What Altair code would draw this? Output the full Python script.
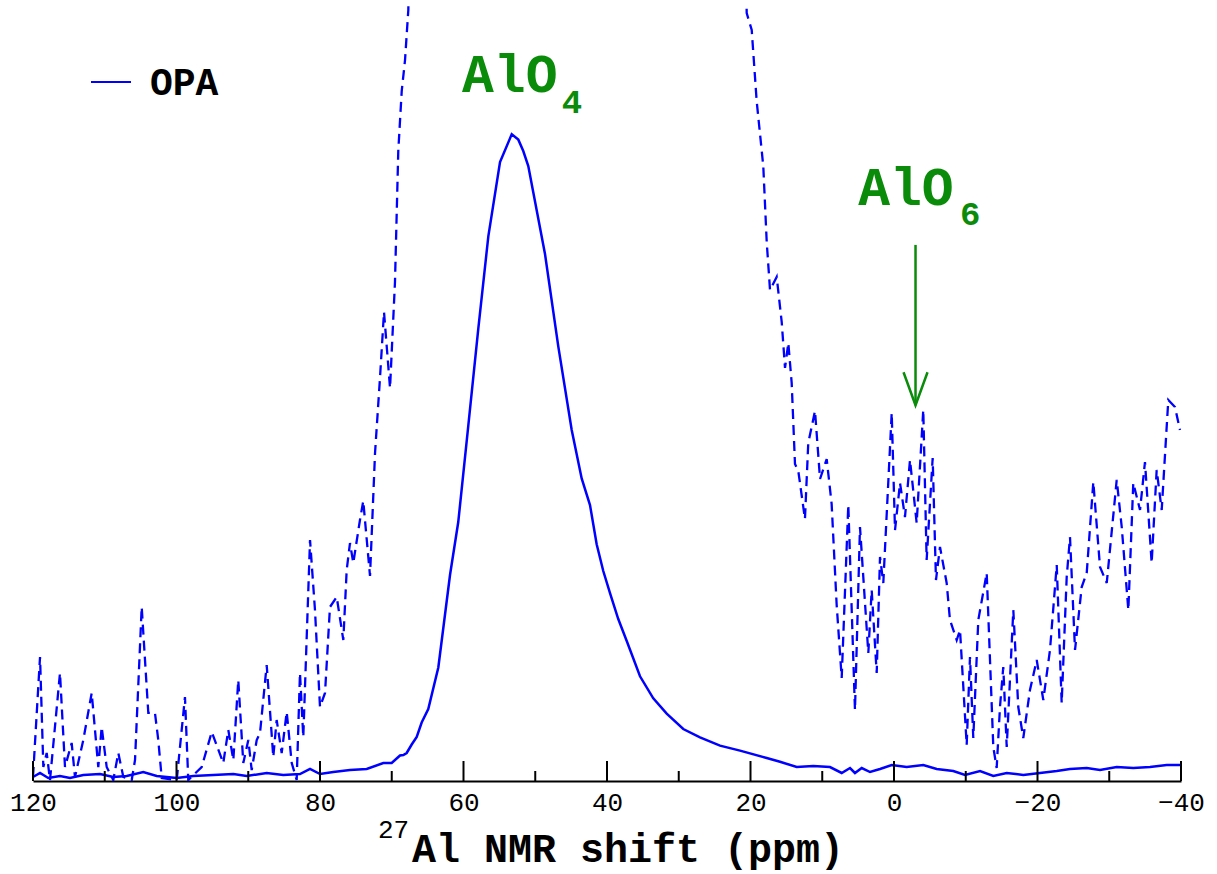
import altair as alt
import pandas as pd

# ---- data (ppm, normalised intensity; peak = 100) ----
solid_ppm = [120.0, 119.02, 117.87, 116.24, 114.84, 112.99, 110.66, 108.81, 106.94, 104.63,
             102.76, 99.97, 97.66, 94.87, 92.08, 90.22, 87.43, 85.12, 82.79, 81.39,
             80.0, 78.15, 75.82, 73.49, 71.18, 70.01, 68.85, 68.39, 67.92, 67.22,
             66.52, 65.83, 64.91, 63.51, 61.88, 60.73, 59.33, 57.94, 56.54, 54.91,
             53.28, 52.36, 51.67, 50.97, 50.27, 48.64, 46.79, 44.92, 43.53, 42.37,
             41.44, 40.52, 39.58, 38.43, 37.25, 35.40, 33.55, 31.68, 29.37, 27.04,
             24.25, 21.46, 17.74, 15.89, 13.56, 11.25, 8.92, 7.29, 6.13, 5.44,
             4.50, 3.34, 1.95, 0.32, -1.77, -4.08, -5.95, -8.26, -9.90, -11.99,
             -13.84, -15.71, -18.02, -20.35, -22.68, -24.53, -26.86, -28.71, -31.04, -33.35,
             -35.68, -38.01, -39.86]
solid_int = [0.62, 1.24, 0.46, 0.77, 0.46, 0.93, 1.08, 0.62, 0.77, 1.39,
             0.77, 0.46, 0.77, 0.93, 1.08, 0.77, 1.24, 0.93, 1.08, 1.86,
             1.08, 1.39, 1.70, 1.86, 2.78, 2.78, 3.94, 4.02, 4.33, 5.64,
             6.80, 9.05, 11.13, 17.55, 31.86, 40.05, 54.97, 69.90, 84.22, 95.72,
             100.0, 99.18, 97.42, 95.10, 91.02, 81.49, 67.20, 54.28, 46.79, 42.68,
             36.60, 32.47, 29.07, 25.05, 21.65, 16.19, 12.79, 10.41, 8.04, 6.73,
             5.47, 4.70, 3.56, 2.98, 2.16, 2.32, 2.16, 1.24, 2.01, 1.24,
             2.01, 1.39, 1.86, 2.47, 2.16, 2.47, 1.86, 1.55, 0.93, 1.55,
             0.77, 1.24, 0.93, 1.24, 1.55, 1.86, 2.01, 1.70, 2.16, 2.01,
             2.16, 2.47, 2.47]

# vertically expanded trace (dashed)
dash_ppm = [120.0, 119.02, 118.56, 118.09, 117.63, 116.24, 115.54, 114.61, 114.15, 112.99,
            111.82, 110.90, 110.43, 109.73, 108.81, 108.11, 107.41, 106.24, 105.78, 104.85,
            103.93, 103.0, 102.54, 102.06, 99.97, 98.82, 98.36, 96.49, 95.09, 93.48,
            92.78, 92.08, 91.39, 90.69, 89.99, 89.52, 88.82, 88.36, 87.43, 86.51,
            86.04, 85.34, 84.64, 83.94, 83.25, 82.79, 82.33, 81.39, 80.70, 80.0,
            79.30, 78.61, 77.67, 76.75, 76.28, 75.82, 75.36, 74.43, 73.97, 73.03,
            72.33, 71.64, 71.08, 70.24, 69.55, 69.09, 68.61, 68.15, 67.69, 67.46,
            20.77, 20.53, 19.83, 19.14, 18.22, 17.74, 17.28, 16.35, 15.65, 15.19,
            14.73, 14.26, 13.80, 13.34, 12.41, 11.95, 11.01, 10.31, 9.38, 8.69,
            7.99, 7.29, 6.37, 5.44, 4.74, 3.58, 3.11, 2.41, 1.95, 1.49,
            0.32, -0.14, -0.84, -1.53, -2.23, -3.16, -4.08, -4.55, -5.39, -5.85,
            -6.41, -7.34, -7.80, -8.74, -9.20, -10.13, -10.59, -11.05, -11.75, -12.92,
            -13.84, -14.31, -14.77, -15.23, -15.71, -16.63, -17.32, -18.02, -18.95, -19.89,
            -20.81, -21.74, -22.68, -23.37, -24.07, -24.53, -25.23, -26.16, -26.86, -27.78,
            -28.71, -29.65, -31.04, -31.74, -32.66, -33.35, -34.29, -34.98, -35.91, -36.61,
            -37.31, -38.23, -39.16, -39.86]
dash_int = [0.62, 19.18, 2.16, 4.33, 0.15, 16.70, 2.16, 5.88, 0.62, 6.34,
            13.61, 2.16, 8.35, 2.16, 0.15, 4.33, 0.62, 0.15, 3.25, 26.91,
            10.52, 10.52, 6.34, 0.46, 0.15, 12.99, 0.15, 2.16, 7.58, 2.78,
            7.89, 3.25, 15.62, 2.78, 6.34, 1.70, 6.34, 7.42, 17.94, 3.71,
            9.43, 4.33, 10.67, 2.78, 0.15, 16.70, 6.80, 37.27, 26.44, 11.44,
            13.61, 26.91, 28.45, 21.80, 32.63, 36.80, 33.71, 40.36, 43.30, 31.70,
            50.72, 62.32, 72.53, 60.77, 77.16, 97.42, 106.70, 111.49, 119.23, 135.0,
            135.0, 118.76, 116.13, 105.15, 95.10, 83.35, 75.93, 77.94, 70.98, 63.87,
            67.73, 61.55, 49.02, 47.94, 40.52, 52.27, 57.22, 46.70, 49.79, 42.83,
            27.22, 15.93, 42.68, 10.98, 39.28, 19.79, 29.54, 16.70, 34.64, 30.62,
            56.91, 38.81, 46.08, 40.82, 49.64, 39.90, 57.37, 34.18, 49.95, 31.08,
            36.19, 30.62, 24.90, 21.80, 23.35, 5.57, 19.18, 6.65, 24.90, 32.16,
            5.26, 2.01, 11.44, 17.63, 5.26, 26.44, 11.44, 6.65, 14.07, 18.71,
            12.53, 20.26, 33.40, 12.06, 31.55, 37.73, 20.26, 30.0, 32.16, 46.24,
            33.09, 30.62, 46.55, 39.28, 26.44, 46.08, 41.91, 49.33, 33.71, 48.09,
            41.91, 58.92, 57.84, 54.28]

major_ticks = [120, 100, 80, 60, 40, 20, 0, -20, -40]
minor_ticks = [110, 90, 70, 50, 30, 10, -10, -30]

arrow_ppm = -3.0
arrow_top = 82.9
arrow_tip = 58.1

FONT = "Liberation Mono"
BLUE = "#0000ff"
GREEN = "#0a8c0a"
W, H = 1148, 776

xs = alt.Scale(domain=[120, -40], nice=False, zero=False)
ys = alt.Scale(domain=[0, 120], nice=False, zero=False)

solid_df = pd.DataFrame({"ppm": solid_ppm, "inten": solid_int, "i": range(len(solid_ppm))})
dash_df = pd.DataFrame({"ppm": dash_ppm, "inten": dash_int, "i": range(len(dash_ppm))})

x_axis = alt.Axis(values=major_ticks, ticks=False, tickSize=0, labelPadding=8,
                  labelFont=FONT, labelFontSize=26, labelColor="black", labelFlush=False,
                  domainColor="black", domainWidth=2, grid=False, title=None)

solid = alt.Chart(solid_df).mark_line(color=BLUE, strokeWidth=2.5).encode(
    x=alt.X("ppm:Q", scale=xs, axis=x_axis),
    y=alt.Y("inten:Q", scale=ys, axis=None),
    order="i:Q",
)

dashed = alt.Chart(dash_df).mark_line(color=BLUE, strokeWidth=2.3, strokeDash=[10, 6], clip=True).encode(
    x=alt.X("ppm:Q", scale=xs),
    y=alt.Y("inten:Q", scale=ys),
    order="i:Q",
)

maj = alt.Chart(pd.DataFrame({"t": major_ticks})).mark_rule(color="black", strokeWidth=2).encode(
    x=alt.X("t:Q", scale=xs), y=alt.value(H), y2=alt.value(H - 20))
mnr = alt.Chart(pd.DataFrame({"t": minor_ticks})).mark_rule(color="black", strokeWidth=2).encode(
    x=alt.X("t:Q", scale=xs), y=alt.value(H), y2=alt.value(H - 10))

arr_df = pd.DataFrame({"ppm": [arrow_ppm], "top": [arrow_top], "tip": [arrow_tip]})
shaft = alt.Chart(arr_df).mark_rule(color=GREEN, strokeWidth=2.5).encode(
    x=alt.X("ppm:Q", scale=xs), y=alt.Y("top:Q", scale=ys), y2="tip:Q")
head = alt.Chart(arr_df).mark_point(shape="M-0.8,-2.2L0,0L0.8,-2.2", filled=False, size=900,
                                    color=GREEN, strokeWidth=2.5, opacity=1).encode(
    x=alt.X("ppm:Q", scale=xs), y=alt.Y("tip:Q", scale=ys))

one = pd.DataFrame({"a": [0]})


def txt(text, x, y, size, color="black", weight="bold"):
    return alt.Chart(one).mark_text(text=text, font=FONT, fontSize=size, fontWeight=weight,
                                    color=color, align="left", baseline="alphabetic").encode(
        x=alt.value(x), y=alt.value(y))


ann = alt.Chart(pd.DataFrame({"ppm": [60.2, 46.3, 5.0, -9.2],
                              "inten": [106.5, 103.3, 89.1, 86.0],
                              "lab": ["AlO", "4", "AlO", "6"],
                              "big": [1, 0, 1, 0]}))
ann_big = ann.mark_text(font=FONT, fontSize=53, fontWeight="bold", color=GREEN,
                        align="left", baseline="alphabetic").encode(
    x=alt.X("ppm:Q", scale=xs), y=alt.Y("inten:Q", scale=ys), text="lab:N").transform_filter("datum.big == 1")
ann_sub = ann.mark_text(font=FONT, fontSize=34, fontWeight="bold", color=GREEN,
                        align="left", baseline="alphabetic").encode(
    x=alt.X("ppm:Q", scale=xs), y=alt.Y("inten:Q", scale=ys), text="lab:N").transform_filter("datum.big == 0")

legend_line = alt.Chart(one).mark_rule(color=BLUE, strokeWidth=2).encode(
    x=alt.value(58), x2=alt.value(98), y=alt.value(77))
legend_txt = txt("OPA", 117, 90, 38)

title_sup = txt("27", 345, 833, 26, weight="normal")
title_main = txt("Al NMR shift (ppm)", 379, 857, 40)

chart = alt.layer(
    solid, dashed, maj, mnr, shaft, head, ann_big, ann_sub, legend_line, legend_txt, title_sup, title_main
).properties(
    width=W, height=H,
    autosize=alt.AutoSizeParams(type="none"),
    padding={"left": 33, "top": 5, "right": 36, "bottom": 93},
).configure(background="white").configure_view(stroke=None, strokeWidth=0)

chart.save("out.html", embed_options={"renderer": "svg", "actions": False})
